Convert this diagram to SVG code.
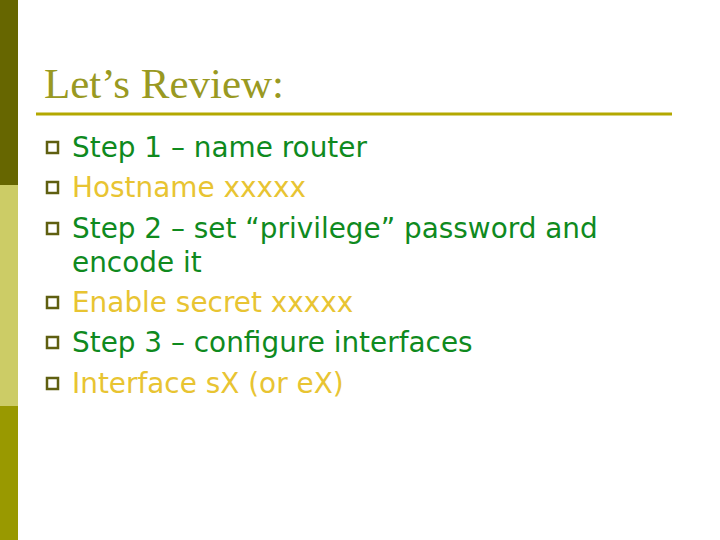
<svg xmlns="http://www.w3.org/2000/svg" width="720" height="540" viewBox="0 0 720 540">
<style>
.t{font-family:"DejaVu Sans",Verdana,sans-serif;font-size:27.9px}
.g{fill:#0f8a1e}.y{fill:#e8c432}
.b{fill:none;stroke:#5f5f10;stroke-width:2.5}
</style>
<rect width="720" height="540" fill="#fff"/>
<rect x="0" y="0" width="18" height="185" fill="#666600"/>
<rect x="0" y="185" width="18" height="221" fill="#cccc66"/>
<rect x="0" y="406" width="18" height="134" fill="#999900"/>
<text x="44" y="98" font-family="Liberation Serif,serif" font-size="43" fill="#999922">Let’s Review:</text>
<line x1="36" y1="114" x2="672" y2="114" stroke="#b3a800" stroke-width="3"/>
<g id="bullets">
<rect class="b" x="47" y="142" width="11" height="11"/>
<rect class="b" x="47" y="182" width="11" height="11"/>
<rect class="b" x="47" y="223" width="11" height="11"/>
<rect class="b" x="47" y="297" width="11" height="11"/>
<rect class="b" x="47" y="337" width="11" height="11"/>
<rect class="b" x="47" y="378" width="11" height="11"/>
</g>
<text class="t g" x="72" y="157">Step 1 – name router</text>
<text class="t y" x="72" y="197">Hostname xxxxx</text>
<text class="t g" x="72" y="238">Step 2 – set “privilege” password and</text>
<text class="t g" x="72" y="272">encode it</text>
<text class="t y" x="72" y="312">Enable secret xxxxx</text>
<text class="t g" x="72" y="352">Step 3 – configure interfaces</text>
<text class="t y" x="72" y="393">Interface sX (or eX)</text>
</svg>
